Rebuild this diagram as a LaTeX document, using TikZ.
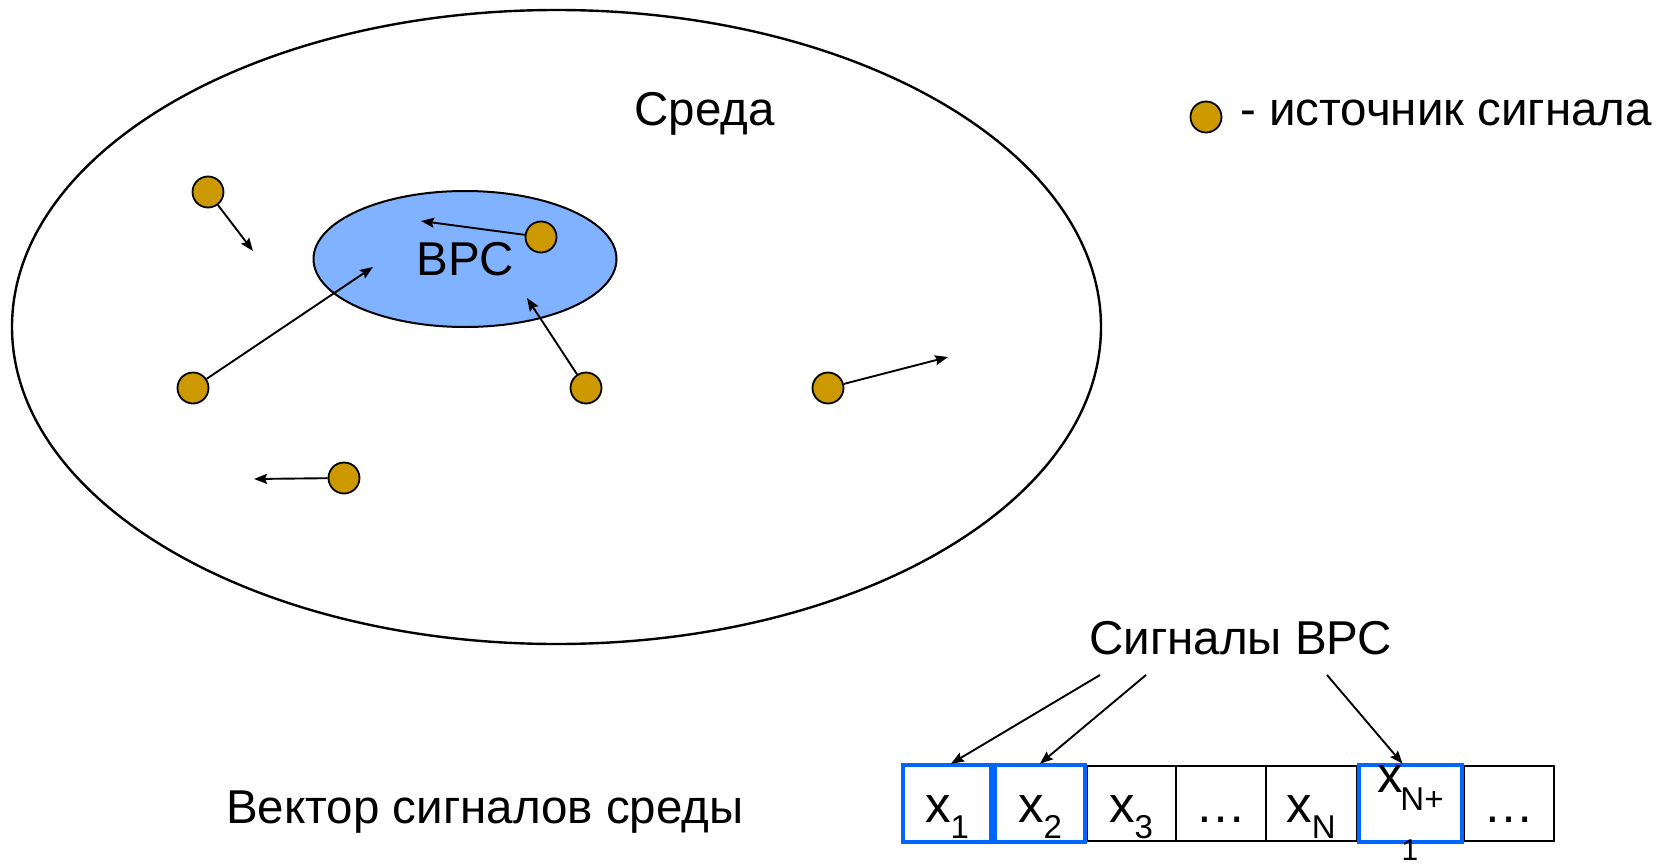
\documentclass[tikz,border=0pt]{standalone}
\usepackage{fontspec}
\setmainfont{Liberation Sans}
\usetikzlibrary{arrows.meta,shapes.geometric}
\definecolor{srcfill}{RGB}{204,153,0}
\definecolor{vrsfill}{RGB}{128,178,255}
\definecolor{selblue}{RGB}{0,102,255}
\newcommand{\subtxt}[1]{\raisebox{-16pt}{\fontsize{33}{33}\selectfont #1}}
\begin{document}
\begin{tikzpicture}[x=1pt,y=-1pt,
  srcnode/.style={circle, draw=black, line width=1.8pt, fill=srcfill, minimum size=31pt, inner sep=0pt},
  arr/.style={line width=1.9pt, -{Stealth[length=13pt,width=10pt,inset=2pt]}},
  bigtxt/.style={font=\fontsize{47.5}{50}\selectfont, inner sep=0pt},
  xt/.style={font=\fontsize{51}{51}\selectfont, inner sep=0pt, anchor=base},
  cellbox/.style={draw=black, line width=2.2pt, minimum height=75pt, inner sep=0pt},
  selbox/.style={draw=selblue, line width=4.6pt, minimum height=77pt, inner sep=0pt},
]
\useasboundingbox (0,0) rectangle (1671,867);
% environment
\node[ellipse, draw=black, line width=2.4pt, minimum width=1089pt, minimum height=634pt, inner sep=0pt] (env) at (556.5,327) {};
\node[bigtxt, anchor=base] (envlbl) at (704.5,125) {Среда};
\node[ellipse, draw=black, line width=2pt, fill=vrsfill, minimum width=303pt, minimum height=136pt, inner sep=0pt, font=\fontsize{47.5}{50}\selectfont] (vrs) at (465,259) {ВРС};
% legend
\node[srcnode] (legsrc) at (1206,117) {};
\node[bigtxt, anchor=base west] (legtxt) at (1240,125) {- источник сигнала};
% sources
\node[srcnode] (s1) at (208,192) {};
\node[srcnode] (s2) at (193,388) {};
\node[srcnode] (s3) at (541,237) {};
\node[srcnode] (s4) at (586,388) {};
\node[srcnode] (s5) at (828,388) {};
\node[srcnode] (s6) at (344,478) {};
\coordinate (e1) at (253,251);
\coordinate (e2) at (373,267);
\coordinate (e3) at (421,221);
\coordinate (e4) at (527,298);
\coordinate (e5) at (948,357);
\coordinate (e6) at (254,479);
\draw[arr] (s1) -- (e1);
\draw[arr] (s2) -- (e2);
\draw[arr] (s3) -- (e3);
\draw[arr] (s4) -- (e4);
\draw[arr] (s5) -- (e5);
\draw[arr] (s6) -- (e6);
% vector
\node[bigtxt, anchor=base west] (veclbl) at (226,823) {Вектор сигналов среды};
\node[cellbox, minimum width=89pt] (c3) at (1131.5,803.5) {};
\node[cellbox, minimum width=90pt] (c4) at (1221,803.5) {};
\node[cellbox, minimum width=91pt] (c5) at (1311.5,803.5) {};
\node[cellbox, minimum width=90pt] (c7) at (1509,803.5) {};
\node[selbox, minimum width=88pt] (c1) at (947,803.5) {};
\node[selbox, minimum width=90pt] (c2) at (1040,803.5) {};
\node[selbox, minimum width=103pt] (c6) at (1410.5,803.5) {};
\node[xt] (x1) at (947,822) {x\subtxt{1}};
\node[xt] (x2) at (1040,822) {x\subtxt{2}};
\node[xt] (x3) at (1131,822) {x\subtxt{3}};
\node[xt] (x4) at (1221,822) {…};
\node[xt] (x5) at (1311,822) {x\subtxt{N}};
\node[xt] (x6) at (1390,792) {x};
\node[inner sep=0pt, anchor=base, font=\fontsize{33}{33}\selectfont] (x6sub) at (1422,810) {N+};
\node[inner sep=0pt, anchor=base, font=\fontsize{30}{30}\selectfont] (x6sub2) at (1410,860) {1};
\node[xt] (x7) at (1509,822) {…};
% signals label
\node[bigtxt, anchor=base west] (siglbl) at (1089,654) {Сигналы ВРС};
\coordinate (a1) at (1100,675);
\coordinate (a2) at (1146,675);
\coordinate (a3) at (1327,675);
\draw[arr] (a1) -- ([xshift=4pt,yshift=-1pt]c1.north);
\draw[arr] (a2) -- ([yshift=-1pt]c2.north);
\draw[arr] (a3) -- ([xshift=-8pt,yshift=-1pt]c6.north);
\end{tikzpicture}
\end{document}
